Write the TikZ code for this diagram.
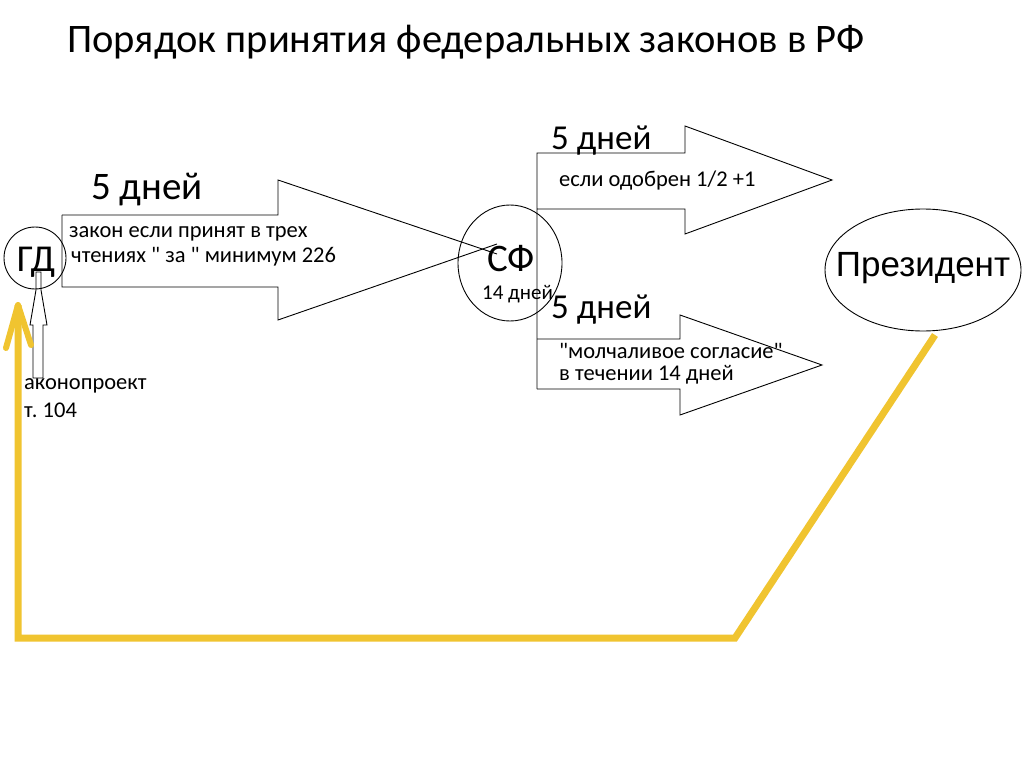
\documentclass[tikz,border=0pt]{standalone}
\usepackage{fontspec}
\setmainfont{Carlito}[Ligatures=TeXOff]
\newfontfamily\arialf{Liberation Sans}
\usetikzlibrary{shapes.geometric}
\definecolor{ylw}{RGB}{240,196,48}
\tikzset{
  outl/.style={draw=black, line width=0.9pt, line join=miter},
  txt/.style={anchor=west, inner sep=0pt, font=\fontsize{22.5}{26}\selectfont},
  big/.style={anchor=west, inner sep=0pt, font=\fontsize{39}{43}\selectfont},
  yline/.style={draw=ylw, line width=7pt, line join=miter},
}
\begin{document}
\frenchspacing
\begin{tikzpicture}[x=1pt,y=-1pt]
\useasboundingbox[fill=white] (0,0) rectangle (1024,767);

% title
\node[big, font=\fontsize{40.5}{44}\selectfont] (title) at (67,42) {Порядок принятия федеральных законов в РФ};

% main nodes
\node[outl, circle, minimum size=62pt, inner sep=0pt] (gd) at (35,258) {};
\node[inner sep=0pt, font=\fontsize{38}{42}\selectfont] (gdt) at (36,262) {ГД};
\node[outl, ellipse, minimum width=104pt, minimum height=116pt, inner sep=0pt] (sf) at (510,263) {};
\node[inner sep=0pt, font=\fontsize{39}{43}\selectfont] (sft) at (511,259) {СФ};
\node[txt, font=\fontsize{21}{24}\selectfont] (sfd) at (482,294) {14 дней};
\node[outl, ellipse, minimum width=196pt, minimum height=122pt, inner sep=0pt] (pres) at (923,270) {};
\node[inner sep=0pt, font=\arialf\fontsize{35}{40}\selectfont] (prest) at (923,268) {Президент};

% arrow GD -> SF
\draw[outl] (62,215) -- (278,215) -- (278,180) -- (497,254);
\draw[outl] (497,244) -- (278,320) -- (278,287) -- (62,287) -- (62,215);
\node[big] (d1) at (91,190) {5 дней};
\node[txt] (a1) at (69,234) {закон если принят в трех};
\node[txt] (a2) at (71,257) {чтениях " за " минимум 226};

% SF branches
\draw[outl] (537,389) -- (537,153) -- (685,153) -- (685,126) -- (832,180) -- (685,234) -- (685,209) -- (537,209);
\draw[outl] (537,339) -- (680,339) -- (680,315) -- (822,365) -- (680,415) -- (680,389) -- (537,389);
\node[big, font=\fontsize{35}{40}\selectfont] (d2) at (551,141) {5 дней};
\node[txt] (b1) at (559,181) {если одобрен 1/2 +1};
\node[big, font=\fontsize{35}{40}\selectfont] (d3) at (551,310) {5 дней};
\node[txt] (c1) at (559,351) {"молчаливое согласие"};
\node[txt] (c2) at (559,375) {в течении 14 дней};

% bill arrow into GD
\draw[outl] (33,378) -- (33,325) -- (30,325) -- (36,290) -- (36,272) -- (41,272) -- (41,290) -- (47,325) -- (43,325) -- (43,378) -- cycle;
\node[txt] (z1) at (24,386) {аконопроект};
\node[txt] (z2) at (24,410) {т. 104};

% yellow return line
\coordinate (ys) at (935,335);
\coordinate (yc1) at (735,638);
\coordinate (yc2) at (18,638);
\coordinate (ye) at (18,305);
\coordinate (yl) at (6,348);
\coordinate (yr) at (31,345);
\draw[yline] (ys) -- (yc1) -- (yc2) -- (ye);
\draw[yline, line width=6pt, line join=round, line cap=round] (yl) -- (ye) -- (yr);
\end{tikzpicture}
\end{document}
